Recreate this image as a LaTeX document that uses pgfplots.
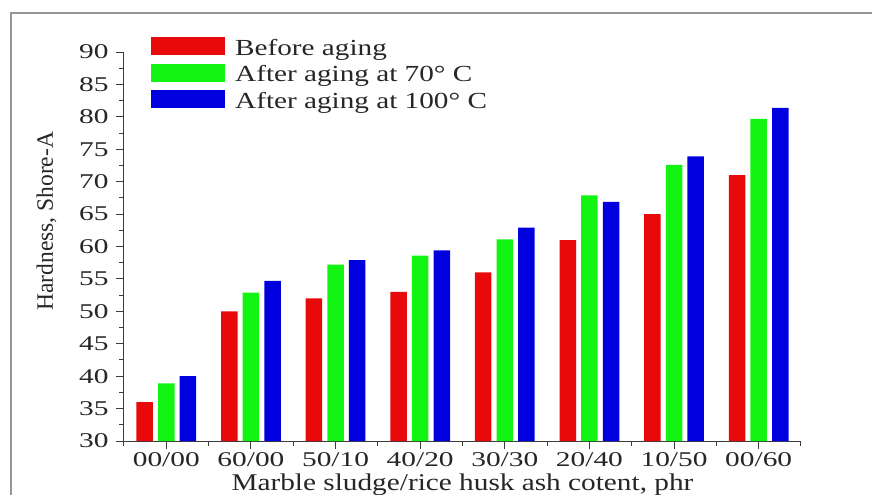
\documentclass[border=0pt]{standalone}
\usepackage{fontspec}
\setmainfont{Liberation Serif}
\newfontfamily\tickfont{Liberation Serif}[FakeStretch=1.4]
\newfontfamily\legfont{Liberation Serif}[FakeStretch=1.27]
\newfontfamily\labfont{Liberation Serif}[FakeStretch=1.22]
\usepackage{pgfplots}
\pgfplotsset{compat=1.18}
\definecolor{cred}{RGB}{232,10,10}
\definecolor{cgreen}{RGB}{18,244,18}
\definecolor{cblue}{RGB}{0,0,222}
\definecolor{framegray}{RGB}{150,150,150}
\definecolor{axgray}{RGB}{60,60,60}
\pgfplotsset{bigleg/.style={legend image code/.code={\fill[##1] (0bp,-9bp) rectangle (74bp,9bp);}}}
\begin{document}
\begin{tikzpicture}
\begin{axis}[
  at={(0,0)}, anchor=south west,
  scale only axis, width=677bp, height=389bp,
  xmin=-0.5, xmax=7.5, ymin=30, ymax=90,
  axis x line*=bottom, axis y line*=left,
  axis line style={axgray, line width=1bp, -},
  tick style={axgray, line width=1bp},
  tick align=outside,
  major tick length=8bp, minor tick length=4.5bp,
  xtick={0,...,7},
  xticklabels={00/00,60/00,50/10,40/20,30/30,20/40,10/50,00/60},
  minor xtick={-0.5,0.5,...,7.5},
  ytick={30,35,...,90},
  minor ytick={32.5,37.5,...,87.5},
  ticklabel style={font=\tickfont\fontsize{21bp}{21bp}\selectfont, text=black!85},
  yticklabel style={xshift=-4bp},
  /pgf/number format/assume math mode=true,
  xlabel={Marble sludge/rice husk ash cotent, phr},
  ylabel={Hardness, Shore-A},
  every axis x label/.style={at={(axis description cs:0.5,-0.128)}, anchor=base, font=\labfont\fontsize{24bp}{24bp}\selectfont, text=black!85},
  every axis y label/.style={at={(axis description cs:-0.105,0.565)}, anchor=base, rotate=90, font=\fontsize{23.5bp}{24bp}\selectfont, text=black!85},
  legend style={draw=none, fill=none, inner sep=0pt, at={(axis description cs:0.0399,1.0488)}, anchor=north west,
    font=\legfont\fontsize{23bp}{23bp}\selectfont, text=black!85,
    nodes={inner sep=0pt, text height=22bp, text depth=4bp},
    row sep=0.5bp, column sep=10bp, cells={anchor=west}},
  ybar, bar width=0.195,
]
\addplot[fill=cred, draw=none, bar shift=-0.255, bigleg] coordinates {(0,36) (1,50) (2,52) (3,53) (4,56) (5,61) (6,65) (7,71)};
\addplot[fill=cgreen, draw=none, bar shift=0, bigleg] coordinates {(0,38.9) (1,52.9) (2,57.2) (3,58.6) (4,61.1) (5,67.9) (6,72.6) (7,79.7)};
\addplot[fill=cblue, draw=none, bar shift=0.255, bigleg] coordinates {(0,40) (1,54.7) (2,57.9) (3,59.4) (4,62.9) (5,66.9) (6,73.9) (7,81.4)};
\legend{Before aging, After aging at 70° C, After aging at 100° C}
\end{axis}
\draw[framegray, line width=1.2bp] (-113bp,-70bp) -- (-113bp,428bp) -- (760bp,428bp);
\pgfresetboundingbox
\useasboundingbox (-124bp,-54bp) rectangle (748bp,441bp);
\end{tikzpicture}
\end{document}
